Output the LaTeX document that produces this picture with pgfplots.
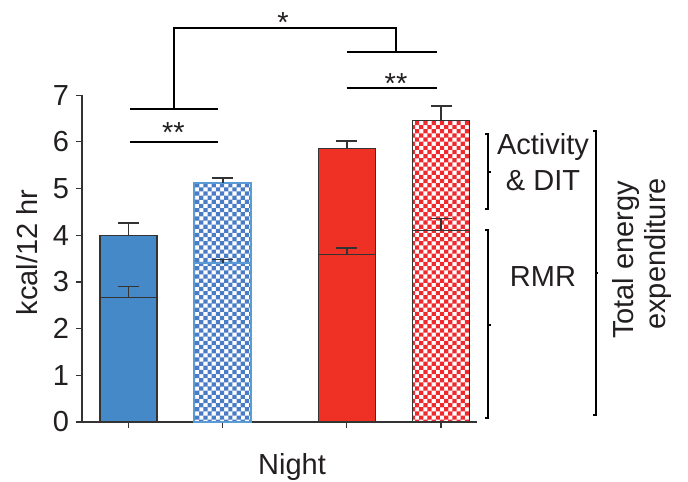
\documentclass[border=0pt]{standalone}
\usepackage{pgfplots}
\pgfplotsset{compat=1.18}
\usepackage{fontspec}
\setmainfont{Liberation Sans}
\usetikzlibrary{patterns}
\pgfdeclarepatternformonly{smallcheck}{\pgfqpoint{-.05pt}{-.05pt}}{\pgfqpoint{4.2pt}{4.2pt}}{\pgfqpoint{4.15pt}{4.15pt}}{%
  \pgfpathrectangle{\pgfqpoint{0pt}{0pt}}{\pgfqpoint{2.1pt}{2.1pt}}%
  \pgfpathrectangle{\pgfqpoint{2.075pt}{2.075pt}}{\pgfqpoint{2.1pt}{2.1pt}}%
  \pgfusepath{fill}}
\definecolor{blueFill}{HTML}{4689C9}
\definecolor{blueCheck}{HTML}{4A7CC6}
\definecolor{blueEdge}{HTML}{5B9BD5}
\definecolor{redFill}{HTML}{EE3124}
\definecolor{redCheck}{HTML}{EE2A2E}
\definecolor{edge}{HTML}{333333}
\definecolor{txt}{HTML}{231F20}
\pgfplotsset{
  mybar/.style={ybar, bar width=57, bar shift=0pt},
  eb/.style={error bars/.cd, y dir=plus, y explicit,
    error bar style={edge, line width=0.9pt},
    error mark options={rotate=90, edge, line width=0.9pt, mark size=5.25pt}},
}
\begin{document}
\begin{tikzpicture}[font=\fontsize{14.5}{16}\selectfont]
\begin{axis}[
  scale only axis, width=197.5pt, height=163.4pt,
  xmin=82, xmax=477, ymin=0, ymax=7,
  axis x line*=bottom, axis y line*=left,
  axis line style={edge, line width=0.6pt},
  xtick={128.5,222.7,346.6,441}, xticklabels={},
  ytick={0,1,2,3,4,5,6,7},
  tick align=outside, major tick length=3pt,
  tick style={edge, line width=0.6pt},
  /pgf/number format/assume math mode=true,
  ticklabel style={font=\fontsize{14.5}{16}\selectfont, text=txt},
  ylabel={kcal/12 hr}, xlabel={Night},
  label style={font=\fontsize{14.5}{16}\selectfont, text=txt},
  ylabel style={at={(axis description cs:-0.1139,0.5186)}, anchor=base},
  xlabel style={at={(axis description cs:0.5316,-0.1622)}, anchor=base},
  clip=false,
]
% total energy expenditure bars
\addplot[mybar, fill=blueFill, draw=edge, line width=0.6pt, eb] coordinates {(128.5,4.00) +- (0,0.27)};
\addplot[mybar, draw=blueEdge, line width=1pt, pattern=smallcheck, pattern color=blueCheck, preaction={fill=white}, eb] coordinates {(222.7,5.12) +- (0,0.10)};
\addplot[mybar, fill=redFill, draw=edge, line width=0.6pt, eb] coordinates {(346.6,5.85) +- (0,0.17)};
\addplot[mybar, draw=edge, line width=0.6pt, pattern=smallcheck, pattern color=redCheck, preaction={fill=white}, eb] coordinates {(441,6.45) +- (0,0.32)};
% RMR parts
\addplot[mybar, draw=edge, line width=0.6pt, eb] coordinates {(128.5,2.67) +- (0,0.23)};
\addplot[mybar, draw=blueEdge, line width=1pt, eb] coordinates {(222.7,3.40) +- (0,0.08)};
\addplot[mybar, draw=edge, line width=0.6pt, eb] coordinates {(346.6,3.58) +- (0,0.15)};
\addplot[mybar, draw=edge, line width=0.6pt, eb] coordinates {(441,4.11) +- (0,0.25)};

% significance brackets
\draw[line width=1pt, black] (axis cs:130,6.0) -- (axis cs:218.3,6.0);
\draw[line width=1pt, black] (axis cs:130,6.70) -- (axis cs:218.3,6.70);
\draw[line width=1pt, black] (axis cs:174,6.70) -- (axis cs:174,8.43) -- (axis cs:396,8.43) -- (axis cs:396,7.93);
\draw[line width=1pt, black] (axis cs:346.7,7.93) -- (axis cs:436.7,7.93);
\draw[line width=1pt, black] (axis cs:346.7,7.15) -- (axis cs:436.7,7.15);
\node[anchor=base, text=txt, inner sep=0pt] at (axis cs:173.3,5.987) {**};
\node[anchor=base, text=txt, inner sep=0pt] at (axis cs:396,7.026) {**};
\node[anchor=base, text=txt, inner sep=0pt] at (axis cs:283,8.347) {*};

% right-hand brackets
\draw[line width=1pt, black] (axis cs:485.3,6.169) -- (axis cs:488.3,6.169) -- (axis cs:488.3,4.556) -- (axis cs:485.3,4.556);
\draw[line width=1pt, black] (axis cs:488.3,5.349) -- (axis cs:490.5,5.349);
\draw[line width=1pt, black] (axis cs:485.3,4.113) -- (axis cs:488.3,4.113) -- (axis cs:488.3,0.079) -- (axis cs:485.3,0.079);
\draw[line width=1pt, black] (axis cs:488.3,2.078) -- (axis cs:490.5,2.078);
\draw[line width=1pt, black] (axis cs:593,6.234) -- (axis cs:596,6.234) -- (axis cs:596,0.150) -- (axis cs:593,0.150);
\draw[line width=1pt, black] (axis cs:596,3.192) -- (axis cs:598.2,3.192);
\node[anchor=base, text=txt, inner sep=0pt] at (axis cs:543,5.719) {Activity};
\node[anchor=base, text=txt, inner sep=0pt] at (axis cs:543,4.954) {\& DIT};
\node[anchor=base, text=txt, inner sep=0pt] at (axis cs:543,2.898) {RMR};
\node[anchor=base, rotate=90, text=txt, inner sep=0pt] at (axis cs:633.3,3.47) {Total energy};
\node[anchor=base, rotate=90, text=txt, inner sep=0pt] at (axis cs:665,3.60) {expenditure};

\coordinate (BL) at (axis cs:0,-1.2852);
\coordinate (TR) at (axis cs:688,9.0391);
\end{axis}
\pgfresetboundingbox
\useasboundingbox (BL) rectangle (TR);
\end{tikzpicture}
\end{document}
